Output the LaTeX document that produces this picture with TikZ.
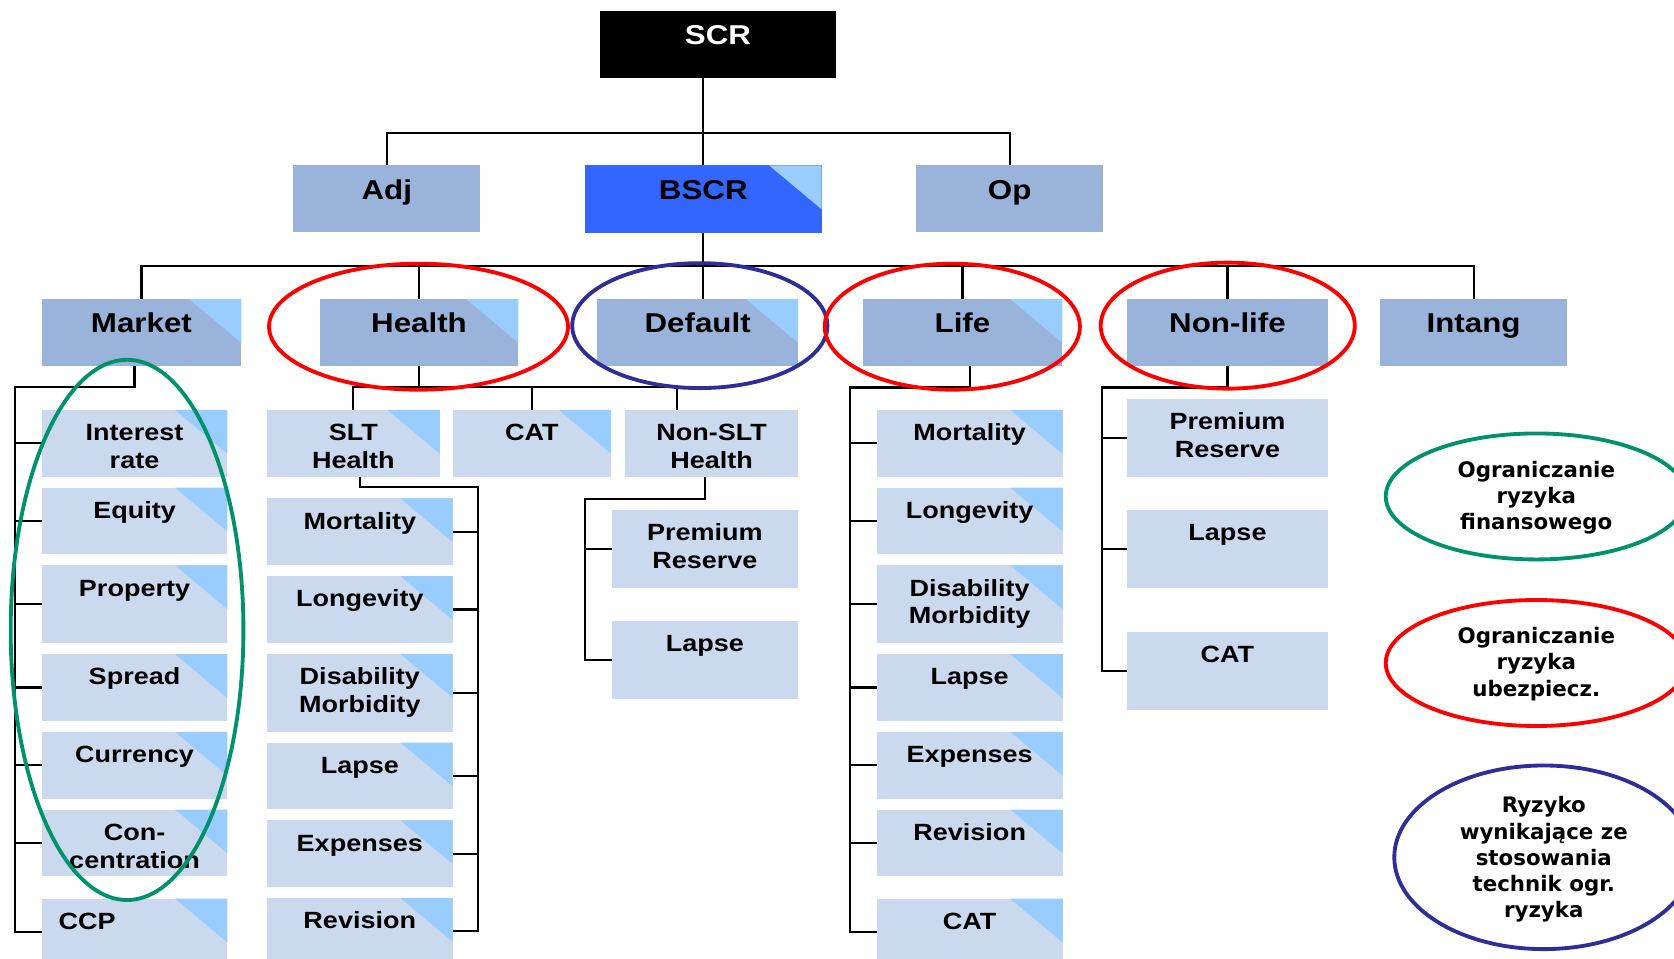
\documentclass[tikz,border=0pt]{standalone}
\usepackage{fontspec}
\setmainfont{Liberation Sans}[FakeStretch=1.15]
\newfontfamily\legfont{DejaVu Sans}
\usetikzlibrary{positioning,calc}
\definecolor{bscrblue}{HTML}{3366FF}
\definecolor{midblue}{HTML}{99B3DB}
\definecolor{paleblue}{HTML}{CAD9EE}
\definecolor{tipblue}{HTML}{99CCFF}
\definecolor{ringred}{HTML}{FF0000}
\definecolor{ringgreen}{HTML}{00936B}
\definecolor{ringnavy}{HTML}{2E2E99}
\newcommand{\hdsize}{\fontsize{25.5pt}{29pt}\selectfont\bfseries}
\newcommand{\subsize}{\fontsize{22pt}{26pt}\selectfont\bfseries}
\newcommand{\legsize}{\legfont\fontsize{20pt}{24.5pt}\selectfont\bfseries}
\tikzset{
  hd/.style={fill=midblue, text width=#1, align=center, inner sep=0pt, outer sep=0pt,
    text height=31.8pt, text depth=30.7pt, font=\hdsize, anchor=north west},
  hd/.default=175.5pt,
  sub/.style={fill=paleblue, text width=#1, align=center, inner sep=0pt, outer sep=0pt,
    text height=28.8pt, text depth=33.7pt, font=\subsize},
  sub/.default=174pt,
  tall/.style={text depth=44pt},
  cornertip/.style={path picture={\fill[tipblue] (path picture bounding box.north east)
    -- ++(-49pt,0pt) -- ++(49pt,-41pt) -- cycle;}},
  wire/.style={line width=2pt, black},
  ring/.style={line width=3.6pt, draw=#1},
  leg/.style={font=\legsize, align=center, inner sep=0pt},
}
\begin{document}
\begin{tikzpicture}[x=1pt, y=-1pt]
  \path[use as bounding box, fill=white] (0,0) rectangle (1568,898);
  % top levels
  \node[hd=221pt, fill=black, text=white, text depth=31.2pt] (scr) at (562,10.3) {SCR};
  \node[hd] (adj) at (274.5,155) {Adj};
  \node[hd=221.5pt, fill=bscrblue, cornertip, text depth=31.7pt] (bscr) at (548,155) {BSCR};
  \node[hd] (op) at (858,155) {Op};
  \node[hd=187pt, cornertip] (mkt) at (39,280) {Market};
  \node[hd=186pt, cornertip] (hl) at (299.5,280) {Health};
  \node[hd=188pt, cornertip] (dft) at (559.5,280) {Default};
  \node[hd=187pt, cornertip] (lf) at (808,280) {Life};
  \node[hd=187.5pt] (nl) at (1056,280) {Non-life};
  \node[hd] (itg) at (1292.5,280) {Intang};
  % market
  \node[sub, cornertip, anchor=north west] (irate) at (39,384) {Interest\\rate};
  \node[sub, cornertip, below=10.3pt of irate] (eq) {Equity};
  \node[sub, cornertip, tall, below=10.3pt of eq] (prop) {Property};
  \node[sub, cornertip, below=10.3pt of prop] (spr) {Spread};
  \node[sub, cornertip, below=10.3pt of spr] (cur) {Currency};
  \node[sub, cornertip, below=10.3pt of cur] (conc) {Con-\\centration};
  \node[sub, cornertip, below=21pt of conc, align=left, text width=142pt, inner xsep=16pt] (ccp) {CCP};
  % health
  \node[sub=162pt, cornertip, anchor=north west] (slt) at (250,384) {SLT\\Health};
  \node[sub=148.5pt, cornertip, anchor=north west] (hcat) at (424,384) {CAT};
  \node[sub=162pt, anchor=north west] (nslt) at (585.5,384) {Non-SLT\\Health};
  \node[sub, cornertip, anchor=north west] (hmort) at (250,466.8) {Mortality};
  \node[sub, cornertip, below=10.3pt of hmort] (hlong) {Longevity};
  \node[sub, cornertip, tall, below=10.3pt of hlong] (hdis) {Disability\\Morbidity};
  \node[sub, cornertip, below=10.3pt of hdis] (hlapse) {Lapse};
  \node[sub, cornertip, below=10.3pt of hlapse] (hexp) {Expenses};
  \node[sub, cornertip, below=10.3pt of hexp] (hrev) {Revision};
  \node[sub=174.5pt, tall, anchor=north west] (hprem) at (573,477.7) {Premium\\Reserve};
  \node[sub=174.5pt, tall, below=31pt of hprem] (hnlapse) {Lapse};
  % life
  \node[sub, cornertip, anchor=north west] (lmort) at (821.3,384) {Mortality};
  \node[sub, cornertip, below=10.3pt of lmort] (llong) {Longevity};
  \node[sub, cornertip, tall, below=10.3pt of llong] (ldis) {Disability\\Morbidity};
  \node[sub, cornertip, below=10.3pt of ldis] (llapse) {Lapse};
  \node[sub, cornertip, below=10.3pt of llapse] (lexp) {Expenses};
  \node[sub, cornertip, below=10.3pt of lexp] (lrev) {Revision};
  \node[sub, cornertip, below=21pt of lrev] (lcat) {CAT};
  % non-life
  \node[sub=187.5pt, tall, anchor=north west] (nprem) at (1056,373.7) {Premium\\Reserve};
  \node[sub=187.5pt, tall, below=31.2pt of nprem] (nlapse) {Lapse};
  \node[sub=187.5pt, tall, below=41.5pt of nlapse] (ncat) {CAT};
  % connectors
  \coordinate (topbar) at (0,124.5);
  \coordinate (modbar) at (0,249);
  \draw[wire] (scr.south -| bscr.north) -- (bscr.north);
  \draw[wire] (adj.north) -- (adj.north |- topbar) -- (op.north |- topbar) -- (op.north);
  \draw[wire] (bscr.south) -- (dft.north -| bscr.south);
  \draw[wire] (mkt.north) -- (mkt.north |- modbar) -- (itg.north |- modbar) -- (itg.north);
  \draw[wire] (hl.north) -- (hl.north |- modbar);
  \draw[wire] (lf.north) -- (lf.north |- modbar);
  \draw[wire] (nl.north) -- (nl.north |- modbar);
  \coordinate (mkrail) at (14,362.5);
  \draw[wire] (mkt.south -| irate.north) |- (mkrail) -- (mkrail |- ccp.west) -- (ccp.west);
  \draw[wire] (mkrail |- irate.west) -- (irate.west) (mkrail |- eq.west) -- (eq.west)
    (mkrail |- prop.west) -- (prop.west) (mkrail |- spr.west) -- (spr.west)
    (mkrail |- cur.west) -- (cur.west) (mkrail |- conc.west) -- (conc.west);
  \coordinate (hlbar) at (0,362.8);
  \coordinate (nsltin) at ($(nslt.north)+(-32pt,0pt)$);
  \draw[wire] (hl.south) -- (hl.south |- hlbar);
  \draw[wire] (slt.north) -- (slt.north |- hlbar) -- (nsltin |- hlbar) -- (nsltin);
  \draw[wire] (hcat.north) -- (hcat.north |- hlbar);
  \coordinate (sltrail) at (448,456.5);
  \draw[wire] (slt.south -| hmort.north) |- (sltrail) -- (sltrail |- hrev.east) -- (hrev.east);
  \draw[wire] (hmort.east) -- (sltrail |- hmort.east) (hlong.east) -- (sltrail |- hlong.east)
    (hdis.east) -- (sltrail |- hdis.east) (hlapse.east) -- (sltrail |- hlapse.east)
    (hexp.east) -- (sltrail |- hexp.east);
  \coordinate (nsltrail) at (548,467);
  \draw[wire] (nslt.south -| hprem.north) |- (nsltrail) -- (nsltrail |- hnlapse.west) -- (hnlapse.west);
  \draw[wire] (nsltrail |- hprem.west) -- (hprem.west);
  \coordinate (lfrail) at (796,363);
  \draw[wire] (lf.south -| lmort.north) |- (lfrail) -- (lfrail |- lcat.west) -- (lcat.west);
  \draw[wire] (lfrail |- lmort.west) -- (lmort.west) (lfrail |- llong.west) -- (llong.west)
    (lfrail |- ldis.west) -- (ldis.west) (lfrail |- llapse.west) -- (llapse.west)
    (lfrail |- lexp.west) -- (lexp.west) (lfrail |- lrev.west) -- (lrev.west);
  \coordinate (nlrail) at (1032,363);
  \draw[wire] (nl.south -| nprem.north) |- (nlrail) -- (nlrail |- ncat.west) -- (ncat.west);
  \draw[wire] (nlrail |- nprem.west) -- (nprem.west) (nlrail |- nlapse.west) -- (nlapse.west);
  % rings
  \draw[ring=ringgreen] (119,590) ellipse [x radius=109pt, y radius=253pt];
  \draw[ring=ringred] (392,306) ellipse [x radius=140pt, y radius=59pt];
  \draw[ring=ringnavy] (655.5,305) ellipse [x radius=119.5pt, y radius=58.5pt];
  \draw[ring=ringred] (892,306) ellipse [x radius=119.5pt, y radius=59pt];
  \draw[ring=ringred] (1150,305) ellipse [x radius=119pt, y radius=59pt];
  % legend
  \draw[ring=ringgreen] (1439,465) ellipse [x radius=141pt, y radius=59pt];
  \draw[ring=ringred] (1439,621) ellipse [x radius=141pt, y radius=59pt];
  \draw[ring=ringnavy] (1446,803) ellipse [x radius=140pt, y radius=86pt];
  \node[leg] (legfin) at (1439,466) {Ograniczanie\\ryzyka\\finansowego};
  \node[leg] (legins) at (1439,622) {Ograniczanie\\ryzyka\\ubezpiecz.};
  \node[leg] (legtech) at (1446,805) {Ryzyko\\wynikające ze\\stosowania\\technik ogr.\\ryzyka};
\end{tikzpicture}
\end{document}
